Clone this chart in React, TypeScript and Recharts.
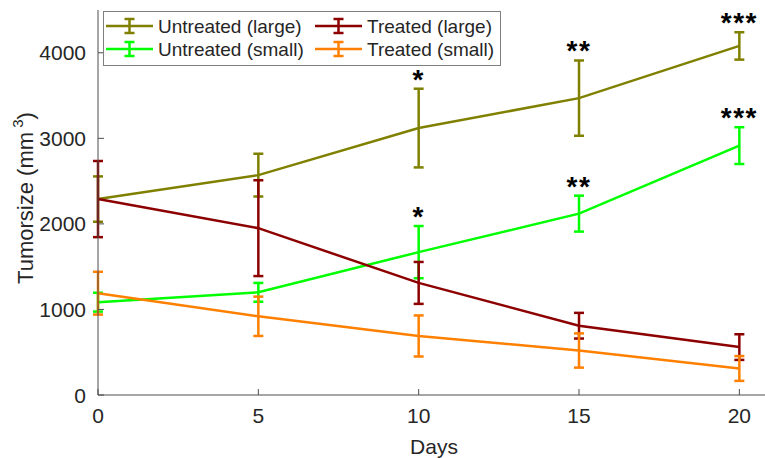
import React from 'react';
import { LineChart, Line, XAxis, YAxis, ErrorBar } from 'recharts';

// days of measurement
const days = [0, 5, 10, 15, 20];

// mean tumour size (mm^3) and error per group
const untreatedLarge = [2290, 2570, 3120, 3470, 4080];
const untreatedLargeErr = [265, 250, 460, 440, 160];
const treatedLarge = [2290, 1950, 1310, 810, 560];
const treatedLargeErr = [445, 560, 245, 150, 150];
const untreatedSmall = [1085, 1200, 1670, 2120, 2915];
const untreatedSmallErr = [110, 110, 305, 210, 215];
const treatedSmall = [1190, 920, 690, 520, 310];
const treatedSmallErr = [250, 230, 240, 200, 145];

// significance markers above the untreated groups
const starsLarge = ['', '', '*', '**', '***'];
const starsSmall = ['', '', '*', '**', '***'];

const yTicks = [0, 1000, 2000, 3000, 4000];
const xTicks = [0, 5, 10, 15, 20];

const series = [
  { name: 'Untreated (large)', color: '#808000' },
  { name: 'Treated (large)', color: '#8c0000' },
  { name: 'Untreated (small)', color: '#00ff00' },
  { name: 'Treated (small)', color: '#ff8000' },
];

const FONT = '"Liberation Sans", Arial, sans-serif';
const TEXT = '#262626';
const AXIS = '#4d4d4d';
const TICK_MARGIN = 8;

const data = days.map((d, i) => ({
  day: d,
  ul: untreatedLarge[i],
  ulErr: untreatedLargeErr[i],
  ulTop: untreatedLarge[i] + untreatedLargeErr[i],
  tl: treatedLarge[i],
  tlErr: treatedLargeErr[i],
  us: untreatedSmall[i],
  usErr: untreatedSmallErr[i],
  usTop: untreatedSmall[i] + untreatedSmallErr[i],
  ts: treatedSmall[i],
  tsErr: treatedSmallErr[i],
}));

const XTick = (props: any) => {
  const { x, y, payload } = props;
  const axisY = y - TICK_MARGIN;
  return (
    <g>
      <line x1={x} x2={x} y1={axisY} y2={axisY - 6} stroke={AXIS} strokeWidth={1} />
      <text x={x} y={axisY + 28} textAnchor="middle" fontSize={21} fill={TEXT} fontFamily={FONT}>
        {payload.value}
      </text>
    </g>
  );
};

const YTick = (props: any) => {
  const { x, y, payload } = props;
  const axisX = x + TICK_MARGIN;
  return (
    <g>
      <line x1={axisX} x2={axisX + 6} y1={y} y2={y} stroke={AXIS} strokeWidth={1} />
      <text x={axisX - 12} y={y + 7.5} textAnchor="end" fontSize={21} fill={TEXT} fontFamily={FONT}>
        {payload.value}
      </text>
    </g>
  );
};

const starLabel = (stars: string[]) => (props: any) => {
  const { x, y, index } = props;
  if (!stars[index]) return null;
  return (
    <text x={x} y={y} textAnchor="middle" fontSize={28} fontWeight="bold" fill="#000" fontFamily={FONT} letterSpacing={1.5}>
      {stars[index]}
    </text>
  );
};

const LegendIcon = ({ x, y, color }: { x: number; y: number; color: string }) => (
  <g stroke={color} strokeWidth={2.5}>
    <line x1={x} x2={x + 47} y1={y} y2={y} />
    <line x1={x + 23.5} x2={x + 23.5} y1={y - 7} y2={y + 7} />
    <line x1={x + 18.5} x2={x + 28.5} y1={y - 7} y2={y - 7} />
    <line x1={x + 18.5} x2={x + 28.5} y1={y + 7} y2={y + 7} />
  </g>
);

const LegendBox = () => {
  const cols = [3, 212];
  const rows = [15, 38];
  return (
    <svg width={398} height={55} style={{ display: 'block' }}>
      <rect x={0.5} y={0.5} width={397} height={54} fill="#fff" stroke="#7f7f7f" strokeWidth={1} />
      {series.map((s, i) => {
        const cx = cols[i % 2];
        const cy = rows[Math.floor(i / 2)];
        return (
          <g key={s.name}>
            <LegendIcon x={cx} y={cy} color={s.color} />
            <text x={cx + 52} y={cy + 7} fontSize={19} fill={TEXT} fontFamily={FONT}>
              {s.name}
            </text>
          </g>
        );
      })}
    </svg>
  );
};

const YLabel = () => (
  <text
    x={33}
    y={198}
    transform="rotate(-90, 33, 198)"
    textAnchor="middle"
    fontSize={22}
    fill={TEXT}
    fontFamily={FONT}
  >
    Tumorsize (mm
    <tspan fontSize={15} dy={-10}> 3</tspan>
    <tspan dy={10}>)</tspan>
  </text>
);

const XLabel = () => (
  <text x={434} y={454} textAnchor="middle" fontSize={21} fill={TEXT} fontFamily={FONT}>
    Days
  </text>
);

export default function App() {
  return (
    <div style={{ position: 'fixed', left: 0, top: 0, width: 765, height: 458, background: '#fff' }}>
      <LineChart width={765} height={458} data={data} margin={{ top: 10, right: 0, bottom: 0, left: 0 }}>
        <XAxis
          dataKey="day"
          type="number"
          domain={[0, 20.8]}
          ticks={xTicks}
          height={63}
          tickSize={0}
          tickMargin={TICK_MARGIN}
          tickLine={false}
          stroke={AXIS}
          tick={<XTick />}
          label={{ content: () => <XLabel /> }}
        />
        <YAxis
          type="number"
          domain={[0, 4500]}
          ticks={yTicks}
          width={98}
          tickSize={0}
          tickMargin={TICK_MARGIN}
          tickLine={false}
          stroke={AXIS}
          tick={<YTick />}
          label={{ content: () => <YLabel /> }}
        />
        <Line dataKey="ul" name={series[0].name} stroke={series[0].color} strokeWidth={2.5} dot={false} isAnimationActive={false}>
          <ErrorBar dataKey="ulErr" width={5} stroke={series[0].color} strokeWidth={2.5} direction="y" />
        </Line>
        <Line dataKey="us" name={series[2].name} stroke={series[2].color} strokeWidth={2.5} dot={false} isAnimationActive={false}>
          <ErrorBar dataKey="usErr" width={5} stroke={series[2].color} strokeWidth={2.5} direction="y" />
        </Line>
        <Line dataKey="tl" name={series[1].name} stroke={series[1].color} strokeWidth={2.5} dot={false} isAnimationActive={false}>
          <ErrorBar dataKey="tlErr" width={5} stroke={series[1].color} strokeWidth={2.5} direction="y" />
        </Line>
        <Line dataKey="ts" name={series[3].name} stroke={series[3].color} strokeWidth={2.5} dot={false} isAnimationActive={false}>
          <ErrorBar dataKey="tsErr" width={5} stroke={series[3].color} strokeWidth={2.5} direction="y" />
        </Line>
        <Line dataKey="ulTop" stroke="none" dot={false} legendType="none" isAnimationActive={false} label={starLabel(starsLarge)} />
        <Line dataKey="usTop" stroke="none" dot={false} legendType="none" isAnimationActive={false} label={starLabel(starsSmall)} />
      </LineChart>
      <div style={{ position: 'absolute', left: 103, top: 11 }}>
        <LegendBox />
      </div>
    </div>
  );
}
